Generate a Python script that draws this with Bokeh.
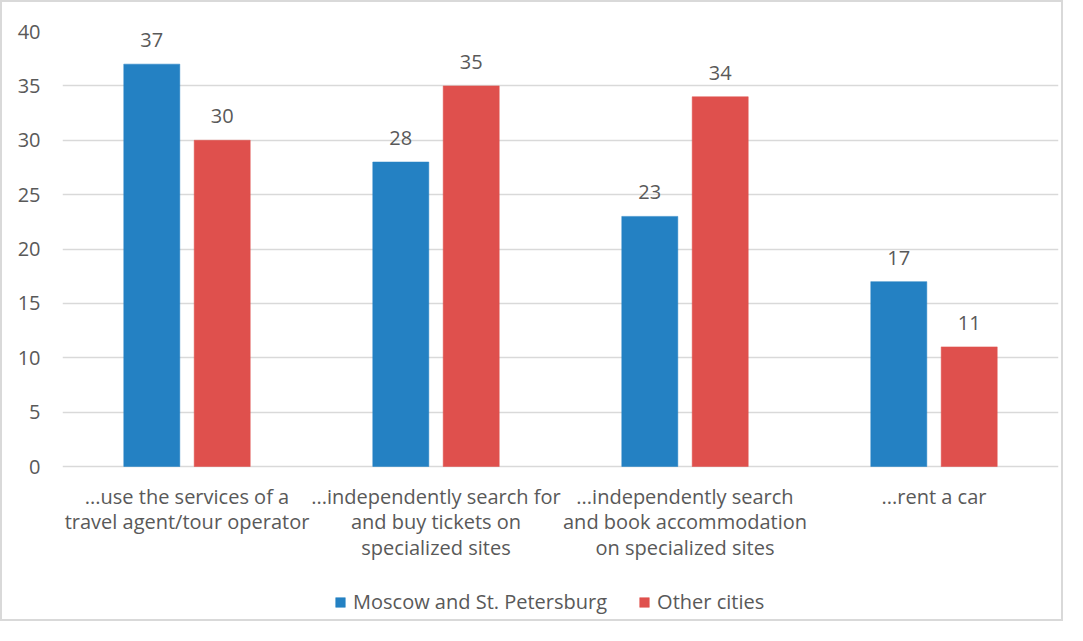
from bokeh.plotting import figure
from bokeh.models import ColumnDataSource, FixedTicker, Legend, LegendItem
from bokeh.transform import dodge
from bokeh.embed import file_html
from bokeh.resources import INLINE
from bokeh.core.properties import value

categories = [
    "...use the services of a\ntravel agent/tour operator",
    "...independently search for\nand buy tickets on\nspecialized sites",
    "...independently search\nand book accommodation\non specialized sites",
    "...rent a car",
]
moscow = [37, 28, 23, 17]
other = [30, 35, 34, 11]
series_names = ["Moscow and St. Petersburg", "Other cities"]
y_ticks = [0, 5, 10, 15, 20, 25, 30, 35, 40]

BLUE = "#2481C3"
RED = "#DF504D"
TXT = "#595959"
GRID = "#D9D9D9"
FONT = "Open Sans"
FS = "20px"

# layout (screen pixels)
W, H = 1063, 621
LEFT, RIGHT, TOP = 60, 7, 29
PLOT_H = 435            # pixels from value 40 down to value 0
below_px = H - TOP - PLOT_H
ymax = y_ticks[-1]
ymin = -below_px * ymax / PLOT_H

xpos = [i + 0.5 for i in range(len(categories))]
src = ColumnDataSource(dict(
    x=xpos, moscow=moscow, other=other, zero=[0] * len(categories), cat=categories,
    mlab=[str(v) for v in moscow], olab=[str(v) for v in other],
))

p = figure(width=W, height=H, x_range=(0, len(categories)), y_range=(ymin, ymax),
           output_backend="svg", toolbar_location=None, x_axis_location=None,
           min_border_left=LEFT, min_border_right=RIGHT, min_border_top=TOP,
           min_border_bottom=0)
p.outline_line_color = None
p.background_fill_color = "white"
p.border_fill_color = "white"
p.styles = {"border": "2px solid #D9D9D9"}

off = 0.1414
bw = 0.225
r1 = p.vbar(x=dodge("x", -off, range=p.x_range), top="moscow", width=bw, source=src,
            fill_color=BLUE, line_color=BLUE, line_width=0.5)
r2 = p.vbar(x=dodge("x", off, range=p.x_range), top="other", width=bw, source=src,
            fill_color=RED, line_color=RED, line_width=0.5)

p.text(x=dodge("x", -off, range=p.x_range), y="moscow", text="mlab", source=src,
       text_align="center", text_baseline="alphabetic", y_offset=-24,
       text_font=value(FONT), text_font_size=FS, text_color=TXT)
p.text(x=dodge("x", off, range=p.x_range), y="other", text="olab", source=src,
       text_align="center", text_baseline="alphabetic", y_offset=-24,
       text_font=value(FONT), text_font_size=FS, text_color=TXT)

# category labels
p.text(x="x", y="zero", text="cat", source=src, text_align="center",
       text_baseline="top", y_offset=16, text_line_height=0.955,
       text_font=value(FONT), text_font_size=FS, text_color=TXT)

p.xgrid.grid_line_color = None
p.ygrid.grid_line_color = GRID
p.ygrid.grid_line_width = 1.5
p.yaxis.ticker = FixedTicker(ticks=y_ticks)
p.yaxis.axis_line_color = None
p.yaxis.major_tick_line_color = None
p.yaxis.minor_tick_line_color = None
p.yaxis.major_tick_out = 0
p.yaxis.major_label_standoff = 22
p.yaxis.major_label_text_font = FONT
p.yaxis.major_label_text_font_size = FS
p.yaxis.major_label_text_color = TXT

legend = Legend(items=[LegendItem(label=series_names[0], renderers=[r1]),
                       LegendItem(label=series_names[1], renderers=[r2])],
                orientation="horizontal", location=(272, 8))
legend.label_text_font = FONT
legend.label_text_font_size = FS
legend.label_text_color = TXT
legend.glyph_width = 12
legend.glyph_height = 12
legend.label_height = 20
legend.label_standoff = 7
legend.spacing = 31
legend.border_line_color = None
legend.background_fill_alpha = 0
legend.padding = 0
legend.margin = 0
p.add_layout(legend, "center")

open("out.html", "w").write(file_html(p, INLINE))
